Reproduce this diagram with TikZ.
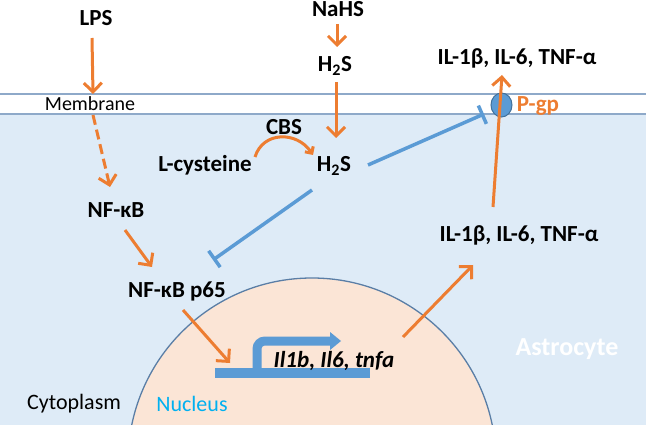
\documentclass[tikz,border=0pt]{standalone}
\usepackage{fontspec}
\setmainfont{Carlito}
\usetikzlibrary{arrows.meta}
\definecolor{orng}{HTML}{ED7D31}
\definecolor{blu}{HTML}{5B9BD5}
\definecolor{cellbg}{HTML}{DEEBF7}
\definecolor{nucbg}{HTML}{FBE5D6}
\definecolor{memline}{HTML}{8EA9C9}
\definecolor{nucline}{HTML}{5A7EA6}
\definecolor{nuctext}{HTML}{00B0F0}
\definecolor{pgpline}{HTML}{41719C}
\begin{document}
\begin{tikzpicture}[x=1pt,y=-1pt,
 lbl/.style={font=\bfseries\fontsize{23}{26}\selectfont, inner sep=0pt, anchor=base},
 plainlbl/.style={font=\fontsize{22}{24}\selectfont, inner sep=0pt, anchor=base},
 act/.style={draw=orng, line width=3pt, -{Straight Barb[length=9pt,width=18pt]}},
 smallact/.style={draw=orng, line width=3pt, -{Straight Barb[length=5pt,width=10pt]}},
 inh/.style={draw=blu, line width=3.5pt, -{Bar[width=20pt]}},
]
\useasboundingbox (0,0) rectangle (646,425);
\fill[cellbg] (0,114) rectangle (646,425);
\begin{scope}
\clip (0,0) rectangle (646,425);
\filldraw[fill=nucbg, draw=nucline, line width=1.3pt] (312,462) circle (184);
\end{scope}
\draw[memline, line width=1.3pt] (0,94) -- (646,94) (0,114) -- (646,114);
\filldraw[fill=blu, draw=pgpline, line width=1pt] (501.5,105) ellipse (10.5 and 12);

% texts
\node[lbl] (lps) at (96,26) {LPS};
\node[plainlbl, font=\fontsize{20}{22}\selectfont] (mem) at (90,111) {Membrane};
\node[lbl] (nahs) at (338,17) {NaHS};
\node[lbl] (h2stop) at (335,72) {H\textsubscript{2}S};
\node[lbl] (nfkb) at (116,218) {NF-κB};
\node[lbl] (p65) at (177,297) {NF-κB p65};
\node[lbl] (lcys) at (205,172) {L-cysteine};
\node[lbl] (cbs) at (284,135) {CBS};
\node[lbl] (h2s) at (334,172) {H\textsubscript{2}S};
\node[lbl] (iltop) at (517,65) {IL-1β, IL-6, TNF-α};
\node[lbl, text=orng] (pgp) at (538,112) {P-gp};
\node[lbl] (illow) at (519,242) {IL-1β, IL-6, TNF-α};
\node[font=\bfseries\fontsize{26}{29}\selectfont, inner sep=0pt, anchor=base, text=white] (astro) at (567,355) {Astrocyte};
\node[plainlbl] (cyto) at (74,409) {Cytoplasm};
\node[plainlbl, text=nuctext] (nuc) at (192,411) {Nucleus};

% gene symbol
\fill[blu] (215,368) rectangle (370,378);
\draw[blu, line width=9pt, rounded corners=8pt] (257,372) -- (257,341) -- (331,341);
\fill[blu] (330,332) -- (341,341) -- (330,350) -- cycle;
\node[font=\bfseries\itshape\fontsize{23}{26}\selectfont, inner sep=0pt, anchor=base] (genes) at (334,367) {Il1b, Il6, tnfa};

% connector end points
\coordinate (lpsA) at (92,38);   \coordinate (lpsB) at (93,94);
\coordinate (dA) at (93,115);    \coordinate (dB) at (110,187);
\coordinate (nA) at (125,230);   \coordinate (nB) at (152,267);
\coordinate (pA) at (183,310);   \coordinate (pB) at (230,363);
\coordinate (gA) at (403,337);   \coordinate (gB) at (473,265);
\coordinate (iA) at (493,207);   \coordinate (iB) at (502,75);
\coordinate (sA) at (337,24);    \coordinate (sB) at (337,47);
\coordinate (hA) at (336,82);    \coordinate (hB) at (336,138);
\coordinate (cA) at (255,157);   \coordinate (cB) at (313,155);
\coordinate (bA) at (368,165);   \coordinate (bB) at (484,114);
\coordinate (qA) at (312,190);   \coordinate (qB) at (213,260);

\draw[act] (lpsA) -- (lpsB);
\draw[act, dash pattern=on 10pt off 5pt] (dA) -- (dB);
\draw[act] (nA) -- (nB);
\draw[act] (pA) -- (pB);
\draw[act] (gA) -- (gB);
\draw[act] (iA) -- (iB);
\draw[act] (sA) -- (sB);
\draw[act] (hA) -- (hB);
\draw[smallact] (cA) .. controls (263,131) and (297,131) .. (cB);
\draw[inh] (bA) -- (bB);
\draw[inh] (qA) -- (qB);
\end{tikzpicture}
\end{document}
